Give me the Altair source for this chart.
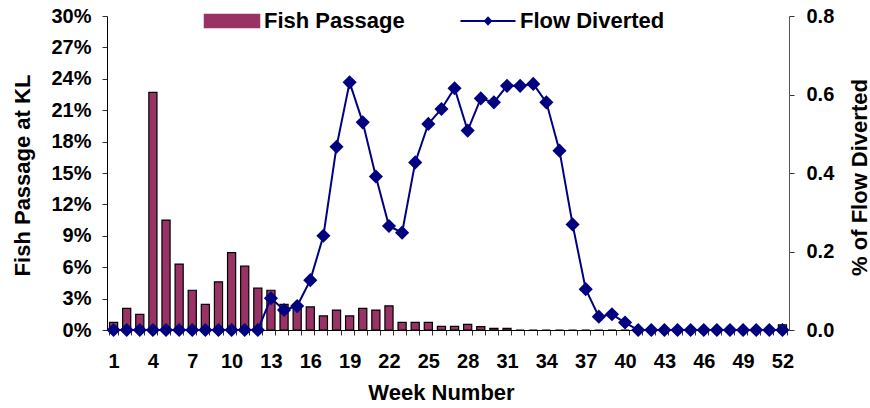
import altair as alt
import pandas as pd

# ---- data ----
weeks = list(range(1, 53))
fish_passage = [
    0.0073, 0.0207, 0.0150, 0.2270, 0.1050, 0.0630, 0.0380, 0.0245, 0.0460, 0.0740,
    0.0610, 0.0400, 0.0380, 0.0245, 0.0225, 0.0220, 0.0134, 0.0190, 0.0134, 0.0207,
    0.0190, 0.0230, 0.0073, 0.0073, 0.0073, 0.0035, 0.0035, 0.0054, 0.0032, 0.0016,
    0.0016, 0.0, 0.0, 0.0, 0.0, 0.0, 0.0, 0.0, 0.0, 0.0,
    0.0, 0.0, 0.0, 0.0, 0.0, 0.0, 0.0, 0.0, 0.0, 0.0,
    0.0, 0.0050,
]
flow_diverted = [
    0.0, 0.0, 0.0, 0.0, 0.0, 0.0, 0.0, 0.0, 0.0, 0.0,
    0.0, 0.0, 0.081, 0.051, 0.061, 0.127, 0.240, 0.467, 0.631, 0.529,
    0.391, 0.265, 0.248, 0.427, 0.525, 0.563, 0.616, 0.508, 0.590, 0.580,
    0.622, 0.622, 0.627, 0.580, 0.457, 0.269, 0.104, 0.034, 0.040, 0.019,
    0.0, 0.0, 0.0, 0.0, 0.0, 0.0, 0.0, 0.0, 0.0, 0.0,
    0.0, 0.0,
]
series_names = ["Fish Passage", "Flow Diverted"]
x_label_weeks = [1, 4, 7, 10, 13, 16, 19, 22, 25, 28, 31, 34, 37, 40, 43, 46, 49, 52]
left_ticks = [0, 0.03, 0.06, 0.09, 0.12, 0.15, 0.18, 0.21, 0.24, 0.27, 0.30]
right_ticks = [0, 0.2, 0.4, 0.6, 0.8]

df = pd.DataFrame({"week": weeks, "passage": fish_passage, "flow": flow_diverted})

FONT = "Liberation Sans"
BAR = "#993366"
NAVY = "#000080"

label_list = ",".join(str(v) for v in x_label_weeks)
x_enc = alt.X(
    "week:O",
    scale=alt.Scale(paddingInner=0.38, paddingOuter=0.19),
    axis=alt.Axis(
        title="Week Number",
        labelAngle=0,
        labelExpr=f"indexof([{label_list}], datum.value) >= 0 ? datum.label : ''",
        labelOverlap=False,
        tickBand="extent",
        tickSize=5,
        labelPadding=16,
        titleX=334,
        titleY=62,
        titleBaseline="middle",
        titleAlign="center",
    ),
)

BAR_PATH = "M-1,-0.236H1V0.236H-1Z"
LINE_PATH = "M-1,0H1M0,-0.12L0.11,0L0,0.12L-0.11,0Z"
is_fish = f"datum.value === '{series_names[0]}'"

legend = alt.Legend(
    title=None,
    orient="none",
    direction="horizontal",
    legendX=114,
    legendY=-6,
    symbolSize=3025,
    symbolType={"expr": f"{is_fish} ? '{BAR_PATH}' : '{LINE_PATH}'"},
    symbolFillColor={"expr": f"{is_fish} ? '{BAR}' : '{NAVY}'"},
    symbolStrokeColor={"expr": f"{is_fish} ? 'black' : '{NAVY}'"},
    symbolStrokeWidth={"expr": f"{is_fish} ? 1.5 : 2"},
    symbolOpacity=1,
    labelOffset=21,
    columnPadding=51,
    labelFont=FONT,
    labelFontSize=22,
    labelFontWeight="bold",
    labelColor="black",
)
color_scale = alt.Scale(domain=series_names, range=[BAR, NAVY])

base = alt.Chart(df)

bars = base.mark_bar(stroke="black", strokeWidth=1.2, opacity=1).transform_calculate(
    series=f"'{series_names[0]}'"
).encode(
    x=x_enc,
    y=alt.Y(
        "passage:Q",
        scale=alt.Scale(domain=[0, 0.30], nice=False, zero=True),
        axis=alt.Axis(
            values=left_ticks,
            format=".0%",
            title="Fish Passage at KL",
            orient="left",
            tickSize=5,
            labelPadding=11,
            titleAngle=270,
            titleX=-85,
            titleY=159,
            titleBaseline="middle",
            titleAlign="center",
        ),
    ),
    color=alt.Color("series:N", scale=color_scale, legend=legend),
)

line = base.mark_line(
    strokeWidth=2,
    point=alt.OverlayMarkDef(shape="diamond", size=200, filled=True, opacity=1),
).transform_calculate(
    series=f"'{series_names[1]}'"
).encode(
    x=x_enc,
    y=alt.Y(
        "flow:Q",
        scale=alt.Scale(domain=[0, 0.8], nice=False, zero=True),
        axis=alt.Axis(
            values=right_ticks,
            format=".1f",
            title="% of Flow Diverted",
            orient="right",
            tickSize=5,
            labelPadding=12,
            titleAngle=270,
            titleX=70,
            titleY=161,
            titleBaseline="middle",
            titleAlign="center",
            domainColor="#555555",
        ),
    ),
    color=alt.Color("series:N", scale=color_scale, legend=legend),
)

chart = (
    alt.layer(bars, line)
    .resolve_scale(y="independent")
    .properties(
        width=682,
        height=314,
        padding={"left": 107, "top": 16, "right": 81, "bottom": 78},
        autosize=alt.AutoSizeParams(type="none"),
        background="white",
    )
    .configure_view(stroke=None)
    .configure_axis(
        labelFont=FONT,
        labelFontSize=20,
        labelFontWeight="bold",
        labelColor="black",
        titleFont=FONT,
        titleFontSize=22,
        titleFontWeight="bold",
        titleColor="black",
        domainColor="black",
        tickColor="#333333",
        grid=False,
    )
)

chart.save("out.html", embed_options={"renderer": "svg", "actions": False})
